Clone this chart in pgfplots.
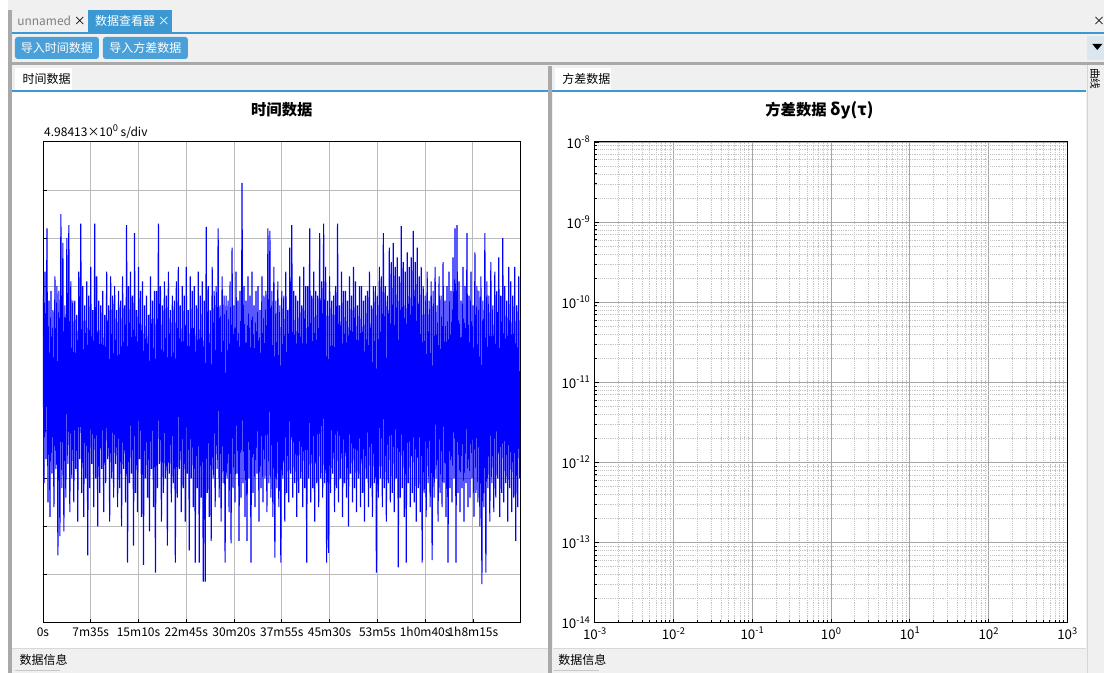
\documentclass[border=0pt]{standalone}
\usepackage{fontspec}
\setmainfont{Noto Sans CJK SC}
\usepackage{pgfplots}
\pgfplotsset{compat=1.18}
\definecolor{uiblue}{HTML}{3C98D3}
\definecolor{btnblue}{HTML}{4AA0D8}
\definecolor{uibg}{HTML}{F0F0F0}
\definecolor{divgray}{HTML}{A9A9A9}
\definecolor{gridgray}{HTML}{BBBBBB}
\definecolor{arrowbg}{HTML}{DCE6EF}
\definecolor{lineD4}{HTML}{D4D4D4}
\definecolor{lineD8}{HTML}{D8D8D8}
\definecolor{lineC8}{HTML}{C8C8C8}
\definecolor{majgrid}{HTML}{A6A6A6}
\definecolor{mingrid}{HTML}{C4C4C4}
\newcommand\sups[1]{\raisebox{0.42em}{\fontsize{7}{7}\selectfont #1}}
\begin{document}
\begin{tikzpicture}[x=0.75pt,y=-0.75pt,font=\fontsize{9}{10}\selectfont]
% ---------- UI chrome ----------
\fill[uibg] (0,0) rectangle (1105,673);
\fill[white] (0,0) rectangle (8,673);
\fill[divgray] (8,10) rectangle (12,673);
% tabs
\node[anchor=west,text=gray,inner sep=0pt] at (17,21) {unnamed \textcolor{black}{×}};
\fill[uiblue] (88,10) rectangle (172,32);
\node[anchor=west,text=white,inner sep=0pt] at (95,21) {数据查看器 ×};
\node[anchor=east,text=black,inner sep=0pt] at (1106,21) {×};
\fill[uiblue] (12,32) rectangle (1105,34);
% buttons
\fill[btnblue,rounded corners=2pt] (15,37) rectangle (99,59);
\node[text=white] at (57,48) {导入时间数据};
\fill[btnblue,rounded corners=2pt] (103,37) rectangle (188,59);
\node[text=white] at (145.5,48) {导入方差数据};
\fill[arrowbg] (1088,36) rectangle (1105,60);
\fill[black] (1093,44) -- (1103,44) -- (1098,50) -- cycle;
% separator
\fill[divgray] (12,62) rectangle (1105,65);
% panel headers
\fill[white] (15,68) rectangle (72,90);
\node[anchor=west] at (18,79) {时间数据};
\fill[white] (555,68) rectangle (611,90);
\node[anchor=west] at (558,79) {方差数据};
\fill[uiblue] (12,90.5) rectangle (1087,92);
% panel bodies
\fill[white] (12,92) rectangle (548,648);
\fill[white] (553,92) rectangle (1087,648);
\fill[divgray] (548,66) rectangle (552.5,673);
\draw[lineD4] (1087.5,65) -- (1087.5,673);
\node[rotate=-90,anchor=west,inner sep=0pt] at (1096,68) {\fontsize{8}{8}\selectfont 曲线};
% footers
\draw[lineD8] (12,648.5) -- (548,648.5);
\draw[lineD8] (553,648.5) -- (1087,648.5);
\node[anchor=west] at (15,660) {数据信息};
\draw[lineC8,line width=1pt] (15,671) -- (60,671);
\node[anchor=west] at (554,660) {数据信息};
\draw[lineC8,line width=1pt] (554,671) -- (599,671);
% titles
\node[font=\bfseries\fontsize{11.5}{12}\selectfont] at (282,110) {时间数据};
\node[font=\bfseries\fontsize{11.5}{12}\selectfont] at (820,110) {方差数据 {\fontsize{12.5}{12}\selectfont δy(τ)}};
\node[anchor=west,inner sep=0pt] at (44,132) {4.98413×10\sups{0} s/div};
% ---------- left axis: time data ----------
\begin{axis}[
  at={(32.25pt,-467.25pt)}, anchor=south west,
  scale only axis, width=358.5pt, height=360.75pt,
  xmin=0, xmax=4550, ymin=-5, ymax=5,
  xtick={0,455,910,1365,1820,2275,2730,3185,3640,4095},
  xticklabels={0s,7m35s,15m10s,22m45s,30m20s,37m55s,45m30s,53m5s,1h0m40s,1h8m15s},
  ytick={-4,-3,-2,-1,0,1,2,3,4}, yticklabels={},
  grid=major, major grid style={gridgray,line width=0.6pt},
  tick pos=left, tick align=inside, major tick length=3pt,
  tick style={black,line width=0.5pt},
  axis line style={black,line width=0.7pt},
  tick label style={font=\fontsize{9}{10}\selectfont},
  clip=true,
]
\addplot[blue,line width=0.85pt] table[row sep=\\, x expr=\coordindex*9.48, y=y] {
y\\
1.8\\ -2.1\\ 2.3\\ -1.6\\ 3.2\\ -2.5\\ 1.7\\ -2.8\\ 1.9\\ -1.9\\
1.5\\ -2.6\\ 2.2\\ -1.8\\ 2.0\\ -3.6\\ 1.9\\ -3.2\\ 3.5\\ -2.2\\
2.9\\ -3.1\\ 1.6\\ -2.4\\ 3.0\\ -1.7\\ 3.27\\ -2.7\\ 2.1\\ -2.0\\
1.7\\ -2.5\\ 1.7\\ -1.8\\ 1.4\\ -2.9\\ 2.3\\ -1.6\\ 3.3\\ -2.3\\
2.0\\ -2.8\\ 1.6\\ -2.0\\ 2.1\\ -3.6\\ 1.8\\ -2.2\\ 2.4\\ -1.7\\
1.5\\ -2.6\\ 3.3\\ -2.0\\ 2.2\\ -3.0\\ 1.7\\ -2.3\\ 1.6\\ -1.8\\
1.9\\ -2.7\\ 1.4\\ -2.1\\ 2.3\\ -1.6\\ 1.6\\ -2.9\\ 2.2\\ -2.0\\
1.8\\ -2.4\\ 2.0\\ -1.7\\ 1.5\\ -2.6\\ 1.9\\ -2.2\\ 1.7\\ -3.0\\
2.2\\ -1.8\\ 1.6\\ -2.5\\ 3.27\\ -3.75\\ 2.0\\ -2.1\\ 2.3\\ -1.9\\
1.8\\ -3.4\\ 3.1\\ -2.3\\ 1.5\\ -2.7\\ 2.4\\ -1.6\\ 1.9\\ -2.8\\
2.1\\ -3.8\\ 1.6\\ -2.0\\ 1.8\\ -2.4\\ 1.4\\ -3.1\\ 2.2\\ -1.8\\
1.7\\ -2.6\\ 1.9\\ -3.96\\ 1.9\\ -2.2\\ 3.3\\ -1.7\\ 2.0\\ -2.9\\
1.6\\ -2.3\\ 2.1\\ -2.0\\ 1.8\\ -3.4\\ 2.3\\ -1.9\\ 1.5\\ -2.5\\
1.8\\ -2.1\\ 1.7\\ -3.75\\ 2.1\\ -2.4\\ 2.4\\ -1.8\\ 1.6\\ -2.7\\
2.0\\ -2.2\\ 1.8\\ -2.9\\ 2.4\\ -1.9\\ 1.5\\ -3.5\\ 2.2\\ -2.0\\
1.9\\ -2.6\\ 2.0\\ -3.75\\ 1.6\\ -2.2\\ 2.3\\ -3.75\\ 1.8\\ -2.4\\
2.1\\ -4.15\\ 1.7\\ -4.15\\ 3.23\\ -2.3\\ 2.0\\ -2.8\\ 1.5\\ -3.3\\
2.4\\ -2.0\\ 1.9\\ -2.6\\ 2.0\\ -1.8\\ 3.2\\ -2.4\\ 1.6\\ -2.9\\
2.2\\ -2.1\\ 1.8\\ -3.75\\ 1.8\\ -2.0\\ 1.7\\ -2.7\\ 2.1\\ -3.35\\
2.8\\ -2.2\\ 1.6\\ -2.5\\ 2.3\\ -1.9\\ 1.7\\ -3.3\\ 1.9\\ -2.4\\
4.15\\ -2.1\\ 2.0\\ -2.8\\ 1.7\\ -3.3\\ 2.2\\ -2.0\\ 1.8\\ -3.75\\
2.3\\ -2.3\\ 1.6\\ -2.6\\ 1.9\\ -1.9\\ 2.0\\ -2.9\\ 1.5\\ -2.2\\
2.2\\ -2.5\\ 1.8\\ -2.0\\ 1.9\\ -2.7\\ 3.2\\ -2.1\\ 3.15\\ -2.4\\
1.9\\ -2.8\\ 2.4\\ -3.65\\ 1.7\\ -2.2\\ 2.1\\ -2.6\\ 1.6\\ -3.75\\
1.9\\ -2.0\\ 1.8\\ -2.9\\ 2.3\\ -2.3\\ 1.5\\ -2.5\\ 2.8\\ -1.9\\
3.27\\ -2.4\\ 1.9\\ -2.1\\ 1.8\\ -2.8\\ 1.7\\ -2.3\\ 2.2\\ -2.0\\
1.6\\ -2.6\\ 2.4\\ -2.2\\ 2.0\\ -3.75\\ 2.0\\ -2.0\\ 3.2\\ -2.5\\
1.8\\ -2.2\\ 2.3\\ -2.9\\ 1.9\\ -2.1\\ 1.8\\ -2.6\\ 3.1\\ -2.0\\
2.1\\ -2.4\\ 3.3\\ -2.1\\ 2.4\\ -3.75\\ 1.7\\ -3.55\\ 2.2\\ -2.3\\
1.7\\ -1.9\\ 1.8\\ -2.7\\ 2.0\\ -2.2\\ 3.3\\ -2.5\\ 1.6\\ -2.0\\
2.3\\ -2.8\\ 1.9\\ -2.1\\ 1.9\\ -2.4\\ 1.7\\ -3.0\\ 2.2\\ -1.9\\
1.8\\ -2.5\\ 2.4\\ -2.2\\ 2.1\\ -2.7\\ 1.6\\ -2.0\\ 2.0\\ -2.6\\
2.0\\ -2.3\\ 1.7\\ -2.9\\ 1.8\\ -2.0\\ 1.9\\ -2.6\\ 2.3\\ -2.2\\
1.6\\ -2.8\\ 2.0\\ -2.1\\ 2.0\\ -3.96\\ 1.8\\ -2.4\\ 2.4\\ -2.0\\
2.2\\ -2.6\\ 3.1\\ -2.2\\ 2.0\\ -2.9\\ 1.8\\ -2.1\\ 2.8\\ -2.5\\
2.5\\ -2.3\\ 2.9\\ -2.7\\ 2.4\\ -2.0\\ 2.6\\ -3.85\\ 2.2\\ -2.4\\
3.25\\ -2.2\\ 2.5\\ -2.8\\ 2.3\\ -3.75\\ 2.7\\ -2.1\\ 2.4\\ -2.6\\
2.6\\ -2.3\\ 3.15\\ -2.5\\ 2.5\\ -2.9\\ 2.8\\ -2.2\\ 2.2\\ -2.7\\
2.4\\ -3.75\\ 2.0\\ -2.3\\ 1.8\\ -2.8\\ 2.3\\ -2.1\\ 1.7\\ -2.6\\
2.1\\ -3.7\\ 1.9\\ -2.4\\ 2.4\\ -2.0\\ 1.6\\ -2.9\\ 2.2\\ -2.3\\
1.8\\ -2.6\\ 2.5\\ -2.1\\ 1.7\\ -2.8\\ 2.0\\ -3.75\\ 2.3\\ -2.2\\
1.9\\ -2.5\\ 2.6\\ -2.0\\ 3.2\\ -3.75\\ 3.27\\ -2.3\\ 2.1\\ -2.7\\
1.7\\ -2.2\\ 2.4\\ -2.9\\ 2.0\\ -2.1\\ 3.1\\ -2.6\\ 1.8\\ -2.4\\
2.3\\ -2.0\\ 1.6\\ -2.8\\ 2.7\\ -2.3\\ 2.0\\ -2.5\\ 1.9\\ -3.0\\
2.2\\ -4.2\\ 1.7\\ -2.6\\ 3.1\\ -3.96\\ 2.1\\ -2.2\\ 1.8\\ -2.9\\
2.5\\ -2.1\\ 1.6\\ -2.7\\ 2.3\\ -2.4\\ 1.9\\ -2.0\\ 2.6\\ -2.8\\
1.8\\ -2.3\\ 3.0\\ -2.5\\ 2.0\\ -2.1\\ 1.7\\ -2.9\\ 2.4\\ -2.2\\
2.1\\ -2.7\\ 1.8\\ -2.4\\ 2.4\\ -3.3\\ 1.6\\ -2.6\\ 2.2\\ -2.0\\
};
\end{axis}
% ---------- right axis: variance data ----------
\begin{axis}[
  at={(446.25pt,-467.25pt)}, anchor=south west,
  scale only axis, width=354.75pt, height=360.75pt,
  xmode=log, ymode=log,
  xmin=1e-3, xmax=1e3, ymin=1e-14, ymax=1e-8,
  xtick={1e-3,1e-2,1e-1,1,1e1,1e2,1e3},
  xticklabels={10\sups{-3},10\sups{-2},10\sups{-1},10\sups{0},10\sups{1},10\sups{2},10\sups{3}},
  ytick={1e-14,1e-13,1e-12,1e-11,1e-10,1e-9,1e-8},
  yticklabels={10\sups{-14},10\sups{-13},10\sups{-12},10\sups{-11},10\sups{-10},10\sups{-9},10\sups{-8}},
  grid=both,
  major grid style={majgrid,line width=0.6pt},
  minor grid style={mingrid,line width=0.4pt,densely dotted},
  tick pos=left, tick align=inside,
  major tick length=3pt, minor tick length=2pt,
  tick style={black,line width=0.5pt},
  axis line style={black,line width=0.7pt},
  tick label style={font=\fontsize{10}{10}\selectfont},
]
\addplot[draw=none] coordinates {(1,1e-11)};
\end{axis}
\end{tikzpicture}
\end{document}
